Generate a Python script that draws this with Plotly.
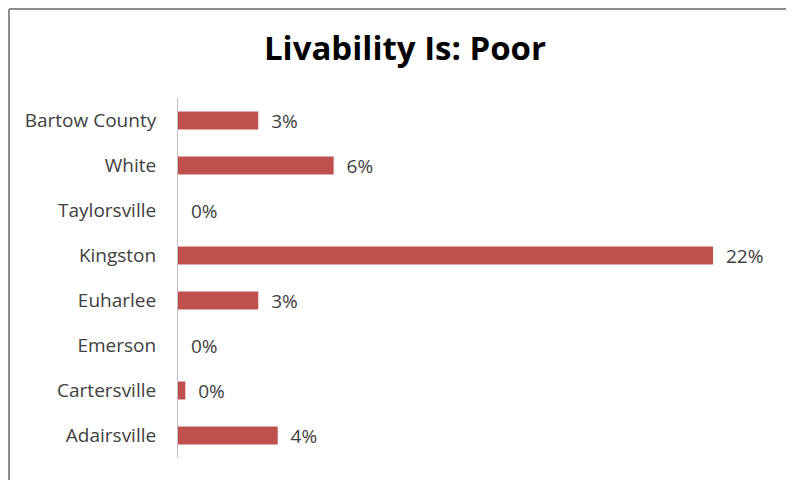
import plotly.graph_objects as go

categories = ["Adairsville", "Cartersville", "Emerson", "Euharlee",
              "Kingston", "Taylorsville", "White", "Bartow County"]
values = [0.041, 0.003, 0.0, 0.033, 0.22, 0.0, 0.064, 0.033]
title_text = "Livability Is: Poor"

# page body has an 8px margin, so the figure is placed 8px in from the window edge
OFF = 8
W, H = 794 - OFF, 480 - OFF
L, R, T, B = 178 - OFF, 8, 98 - OFF, 22
pw, ph = W - L - R, H - T - B

def px_x(x):
    return (x - L) / pw

def px_y(y):
    return (H - B - y) / ph

FONT = "Open Sans, Liberation Sans, sans-serif"

fig = go.Figure()
fig.add_trace(go.Bar(
    y=categories, x=values, orientation="h",
    marker=dict(color="#C0504D", line=dict(width=0)),
    text=[f"\u00a0\u00a0{round(v*100):.0f}%" for v in values],
    textposition="outside", cliponaxis=False, constraintext="none",
    textfont=dict(family=FONT, size=19, color="#404040"),
    hoverinfo="skip",
))

fig.update_layout(
    width=W, height=H,
    margin=dict(l=L, r=R, t=T, b=B),
    paper_bgcolor="white", plot_bgcolor="white",
    showlegend=False,
    bargap=0.6,
    uniformtext=dict(mode=False),
    title=dict(text=f"<b>{title_text}</b>", x=(405 - OFF) / W, xanchor="center",
               y=1 - (48 - OFF) / H, yanchor="middle",
               font=dict(family=FONT, size=33, color="#000000")),
    xaxis=dict(range=[0, 0.25], visible=False, fixedrange=True),
    yaxis=dict(showline=True, linecolor="#BFBFBF", linewidth=1,
               showgrid=False, zeroline=False, ticks="",
               ticklabelstandoff=17,
               tickfont=dict(family=FONT, size=19, color="#404040")),
    shapes=[
        dict(type="line", xref="paper", yref="paper",
             x0=px_x(1), x1=px_x(W + 10), y0=px_y(1), y1=px_y(1),
             line=dict(color="#8C8C8C", width=2)),
        dict(type="line", xref="paper", yref="paper",
             x0=px_x(1), x1=px_x(1), y0=px_y(1), y1=px_y(H + 10),
             line=dict(color="#8C8C8C", width=2)),
    ],
)

fig.write_html("out.html")
